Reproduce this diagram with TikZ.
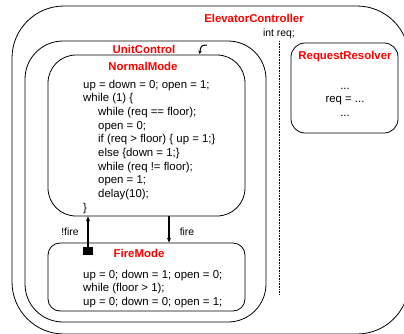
\documentclass[tikz,border=0pt]{standalone}
\usepackage{fontspec}
\setmainfont{Liberation Sans}
\usetikzlibrary{arrows.meta}

\tikzset{
 statebox/.style={draw, line width=.8pt, inner sep=0pt},
 title/.style={text=red, font=\fontsize{11.4}{13.7}\selectfont\bfseries, inner sep=0pt, anchor=base},
 code/.style={font=\fontsize{11.4}{13.7}\selectfont, align=left, inner sep=0pt, anchor=base west},
 small/.style={font=\fontsize{10.4}{12}\selectfont, inner sep=0pt, anchor=base},
 trans/.style={line width=1.2pt, -{Stealth[length=5pt,width=4pt]}},
}

\begin{document}
\begin{tikzpicture}[x=1pt,y=-1pt]
 \useasboundingbox (0,0) rectangle (404,333);
 \clip (0,0) rectangle (404,333);
 % states
 \node[statebox, rounded corners=52pt, minimum width=397pt, minimum height=328pt] (elevator) at (210.5,170) {};
 \node[statebox, rounded corners=38pt, minimum width=241pt, minimum height=281pt] (unitctl) at (145.5,181.5) {};
 \node[statebox, rounded corners=28pt, minimum width=197pt, minimum height=161pt] (normal) at (146.5,135.5) {};
 \node[statebox, rounded corners=12pt, minimum width=197pt, minimum height=68pt] (firemode) at (146.5,277) {};
 \node[statebox, rounded corners=14pt, minimum width=107pt, minimum height=90pt] (resolver) at (344.5,88) {};
 \draw[densely dotted, line width=.6pt] (279,41) -- (279,294);
 % names
 \node[title] (elevname) at (254,22) {ElevatorController};
 \node[small] (reqvar) at (279,36) {int req;};
 \node[title] (unitname) at (144,53) {UnitControl};
 \node[title] (normalname) at (143,70) {NormalMode};
 \node[title] (firename) at (139,257) {FireMode};
 \node[title] (resolvername) at (345,59) {RequestResolver};
 % history mark
 \draw[line width=1pt, -{Stealth[length=3.5pt,width=3.5pt]}] (207,45) .. controls (201,45.5) .. (199.5,54);
 % bodies (anchored on the last line)
 \node[code] (normalcode) at (83,211.3) {up = down = 0; open = 1;\\
  while (1) \{\\
  \hspace*{15pt}while (req == floor);\\
  \hspace*{15pt}open = 0;\\
  \hspace*{15pt}if (req > floor) \{ up = 1;\}\\
  \hspace*{15pt}else \{down = 1;\}\\
  \hspace*{15pt}while (req != floor);\\
  \hspace*{15pt}open = 1;\\
  \hspace*{15pt}delay(10);\\
  \}};
 \node[code] (firecode) at (83,305.4) {up = 0; down = 1; open = 0;\\
  while (floor > 1);\\
  up = 0; down = 0; open = 1;};
 \node[code, align=center, anchor=base] (resolvercode) at (345,116.4) {...\\ req = ...\\ ...};
 % transitions
 \node[fill, inner sep=0pt, minimum width=10pt, minimum height=8pt] (init) at (88,251) {};
 \coordinate (firex) at (169,0);
 \draw[trans] (init.north) -- (init.north |- normal.south);
 \draw[trans] (normal.south -| firex) -- (firemode.north -| firex);
 \node[small] (notfire) at (70,235) {!fire};
 \node[small] (fire) at (187,235) {fire};
\end{tikzpicture}
\end{document}
